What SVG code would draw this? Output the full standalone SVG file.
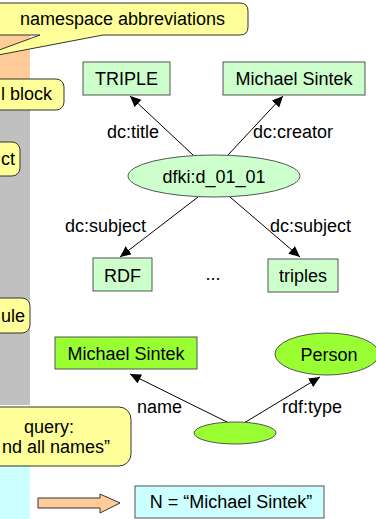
<svg xmlns="http://www.w3.org/2000/svg" width="376" height="519" viewBox="0 0 376 519">
  <style>
    text { font-family: "Liberation Sans", Arial, sans-serif; font-size: 18px; fill: #000; }
    .mid { text-anchor: middle; }
    .end { text-anchor: end; }
    .callout { fill: #FFFF99; stroke: #333; stroke-width: 1; }
    .res { fill: #CCFFCC; stroke: #555; stroke-width: 1; }
    .res2 { fill: #99FF33; stroke: #555; stroke-width: 1; }
    .edge { stroke: #000; stroke-width: 1; fill: none; marker-end: url(#head); }
  </style>
  <defs>
    <marker id="head" markerUnits="userSpaceOnUse" markerWidth="12" markerHeight="12" refX="11" refY="5" orient="auto">
      <path d="M0,0 L11,5 L0,10 Z" fill="#000"/>
    </marker>
  </defs>

  <!-- program column strip -->
  <g id="strip">
    <rect x="0" y="3" width="30" height="92" fill="#FFCC99"/>
    <rect x="0" y="95" width="30" height="310" fill="#C0C0C0"/>
    <rect x="0" y="440" width="30" height="79" fill="#CCFFFF"/>
  </g>

  <!-- annotation callouts -->
  <g id="callout-namespace">
    <path class="callout" d="M-10,3 H240 Q248,3 248,11 V27 Q248,35 240,35 H103 L-28,60 L40,35 H-10 Z"/>
    <text x="122.5" y="25" class="mid">namespace abbreviations</text>
  </g>
  <g id="callout-block">
    <rect class="callout" x="-30" y="79" width="94" height="31" rx="8"/>
    <text x="1" y="100">l block</text>
  </g>
  <g id="callout-fact">
    <rect class="callout" x="-30" y="142" width="50" height="34" rx="8"/>
    <text x="1" y="165">ct</text>
  </g>
  <g id="callout-rule">
    <rect class="callout" x="-30" y="298" width="60" height="35" rx="8"/>
    <text x="1" y="322">ule</text>
  </g>
  <g id="callout-query">
    <rect class="callout" x="-33" y="407" width="164" height="59" rx="12"/>
    <text x="49" y="433" class="mid">query:</text>
    <text x="110" y="453" class="end">nd all names”</text>
  </g>

  <!-- connectors -->
  <g id="connectors">
    <line class="edge" x1="193" y1="155" x2="130" y2="96"/>
    <line class="edge" x1="228" y1="155" x2="283" y2="96"/>
    <line class="edge" x1="198" y1="197" x2="120" y2="257"/>
    <line class="edge" x1="230" y1="197" x2="300" y2="257"/>
    <line class="edge" x1="229" y1="423" x2="130" y2="374"/>
    <line class="edge" x1="244" y1="423" x2="320" y2="377"/>
    <text x="107" y="138">dc:title</text>
    <text x="253" y="138">dc:creator</text>
    <text x="65" y="232">dc:subject</text>
    <text x="270" y="232">dc:subject</text>
    <text x="137" y="413">name</text>
    <text x="282" y="413">rdf:type</text>
  </g>

  <!-- document graph -->
  <g id="node-triple">
    <rect class="res" x="83" y="62" width="87" height="33"/>
    <text x="126.5" y="85" class="mid">TRIPLE</text>
  </g>
  <g id="node-sintek">
    <rect class="res" x="223" y="62" width="142" height="33"/>
    <text x="294" y="85" class="mid">Michael Sintek</text>
  </g>
  <g id="node-doc">
    <ellipse class="res" cx="214" cy="176" rx="86" ry="21"/>
    <text x="214" y="183" class="mid">dfki:d_01_01</text>
  </g>
  <g id="node-rdf">
    <rect class="res" x="93" y="258" width="59" height="33"/>
    <text x="122.5" y="282" class="mid">RDF</text>
  </g>
  <g id="node-more">
    <text x="213" y="280" class="mid">...</text>
  </g>
  <g id="node-triples">
    <rect class="res" x="268" y="259" width="70" height="33"/>
    <text x="303" y="282" class="mid">triples</text>
  </g>

  <!-- query pattern -->
  <g id="node-name">
    <rect class="res2" x="55" y="337" width="142" height="32"/>
    <text x="126" y="360" class="mid">Michael Sintek</text>
  </g>
  <g id="node-person">
    <ellipse class="res2" cx="327" cy="354" rx="52" ry="21"/>
    <text x="329" y="361" class="mid">Person</text>
  </g>
  <g id="node-var">
    <ellipse class="res2" cx="235" cy="433" rx="41" ry="11"/>
  </g>

  <!-- result -->
  <g id="result-arrow">
    <path d="M38,498 H100 V494 L120,503 L100,513 V508 H38 Z" fill="#FFCC99" stroke="#333" stroke-width="1"/>
  </g>
  <g id="node-result">
    <rect x="135" y="486" width="189" height="32" fill="#CCFFFF" stroke="#555" stroke-width="1"/>
    <text x="231" y="508" class="mid">N = “Michael Sintek”</text>
  </g>
</svg>
